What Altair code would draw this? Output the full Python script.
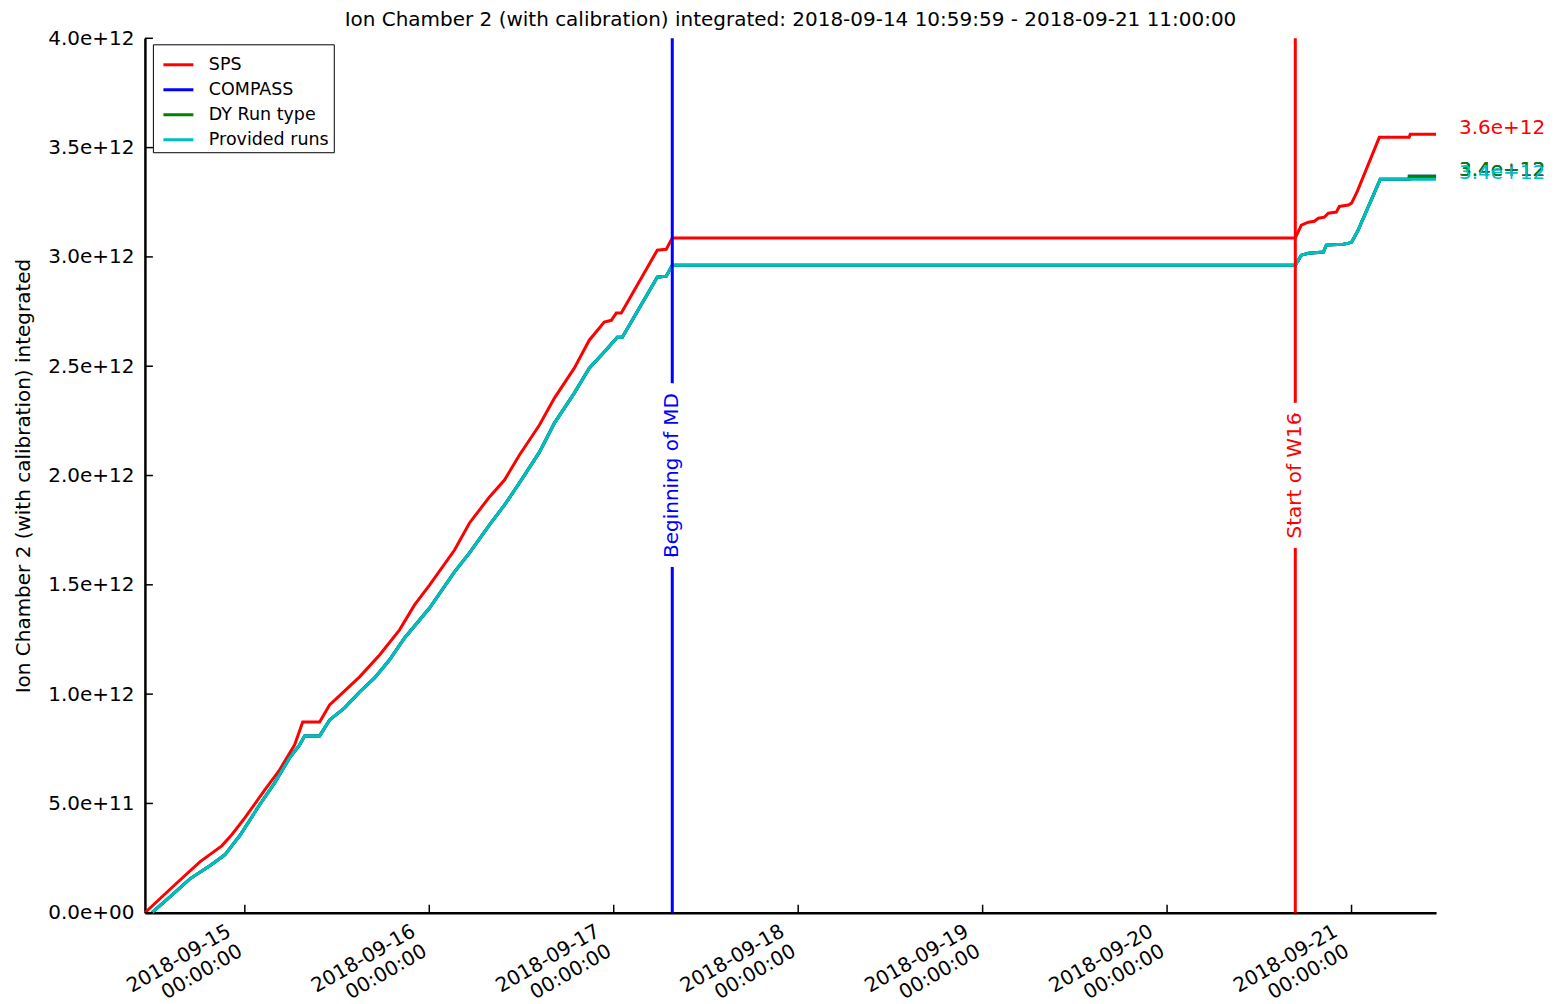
import altair as alt
import pandas as pd

FONT = "DejaVu Sans"

series_names = ["SPS", "COMPASS", "DY Run type", "Provided runs"]
series_colors = ["#ff0000", "#0000ff", "#008000", "#00bfbf"]

sps_times = [
    "2018-09-14T11:00", "2018-09-14T14:54", "2018-09-14T18:09", "2018-09-14T21:00",
    "2018-09-14T22:18", "2018-09-15T00:00", "2018-09-15T02:36", "2018-09-15T04:32",
    "2018-09-15T06:29", "2018-09-15T07:32", "2018-09-15T09:44", "2018-09-15T11:02",
    "2018-09-15T14:56", "2018-09-15T17:32", "2018-09-15T20:08", "2018-09-15T22:05",
    "2018-09-16T00:02", "2018-09-16T03:17", "2018-09-16T05:14", "2018-09-16T07:50",
    "2018-09-16T09:47", "2018-09-16T11:44", "2018-09-16T14:20", "2018-09-16T16:17",
    "2018-09-16T18:52", "2018-09-16T20:49", "2018-09-16T22:46", "2018-09-16T23:41",
    "2018-09-17T00:20", "2018-09-17T00:59", "2018-09-17T05:40", "2018-09-17T06:50",
    "2018-09-17T07:37", "2018-09-20T16:41", "2018-09-20T17:28", "2018-09-20T18:23",
    "2018-09-20T19:10", "2018-09-20T19:41", "2018-09-20T20:28", "2018-09-20T20:59",
    "2018-09-20T22:01", "2018-09-20T22:25", "2018-09-20T23:35", "2018-09-21T00:00",
    "2018-09-21T00:45", "2018-09-21T03:37", "2018-09-21T07:30", "2018-09-21T07:38",
    "2018-09-21T11:00",
]
sps_values = [
    0.0, 0.128e12, 0.233e12, 0.306e12,
    0.357e12, 0.434e12, 0.562e12, 0.654e12,
    0.768e12, 0.873e12, 0.873e12, 0.951e12,
    1.079e12, 1.179e12, 1.294e12, 1.408e12,
    1.499e12, 1.659e12, 1.783e12, 1.902e12,
    1.979e12, 2.094e12, 2.231e12, 2.354e12,
    2.491e12, 2.619e12, 2.702e12, 2.710e12,
    2.743e12, 2.743e12, 3.031e12, 3.035e12,
    3.086e12, 3.086e12, 3.145e12, 3.159e12,
    3.163e12, 3.177e12, 3.182e12, 3.200e12,
    3.205e12, 3.231e12, 3.237e12, 3.246e12,
    3.300e12, 3.547e12, 3.547e12, 3.561e12,
    3.561e12,
]

prov_times = [
    "2018-09-14T11:55", "2018-09-14T14:15", "2018-09-14T16:51", "2018-09-14T19:27",
    "2018-09-14T21:24", "2018-09-14T22:18", "2018-09-14T23:20", "2018-09-15T01:56",
    "2018-09-15T03:53", "2018-09-15T05:50", "2018-09-15T07:08", "2018-09-15T07:47",
    "2018-09-15T09:44", "2018-09-15T11:02", "2018-09-15T12:59", "2018-09-15T14:56",
    "2018-09-15T16:53", "2018-09-15T18:50", "2018-09-15T20:47", "2018-09-16T00:02",
    "2018-09-16T03:17", "2018-09-16T05:14", "2018-09-16T07:50", "2018-09-16T09:47",
    "2018-09-16T11:44", "2018-09-16T14:20", "2018-09-16T16:17", "2018-09-16T18:52",
    "2018-09-16T20:49", "2018-09-16T22:46", "2018-09-17T00:28", "2018-09-17T01:07",
    "2018-09-17T05:40", "2018-09-17T06:50", "2018-09-17T07:37", "2018-09-20T16:41",
    "2018-09-20T17:28", "2018-09-20T18:23", "2018-09-20T20:20", "2018-09-20T20:43",
    "2018-09-20T22:56", "2018-09-20T23:35", "2018-09-21T00:00", "2018-09-21T00:50",
    "2018-09-21T03:44", "2018-09-21T11:00",
]
prov_values = [
    0.0, 0.073e12, 0.155e12, 0.215e12,
    0.265e12, 0.306e12, 0.352e12, 0.494e12,
    0.594e12, 0.709e12, 0.768e12, 0.809e12,
    0.809e12, 0.882e12, 0.937e12, 1.010e12,
    1.074e12, 1.157e12, 1.257e12, 1.394e12,
    1.559e12, 1.646e12, 1.774e12, 1.865e12,
    1.966e12, 2.107e12, 2.240e12, 2.377e12,
    2.491e12, 2.565e12, 2.633e12, 2.633e12,
    2.907e12, 2.912e12, 2.962e12, 2.962e12,
    3.008e12, 3.017e12, 3.022e12, 3.054e12,
    3.058e12, 3.063e12, 3.067e12, 3.120e12,
    3.355e12, 3.355e12,
]

# DY run type and COMPASS follow the provided runs until the last step
dy_times = prov_times[:-1] + ["2018-09-21T07:30", "2018-09-21T07:31", "2018-09-21T11:00"]
dy_values = prov_values[:-1] + [3.355e12, 3.369e12, 3.369e12]
compass_times = list(dy_times)
compass_values = list(dy_values)

event_times = ["2018-09-17T07:37", "2018-09-20T16:41"]
event_labels = ["Beginning of MD", "Start of W16"]
event_label_value = 2.0e12

x_tick_days = [15, 16, 17, 18, 19, 20, 21]
y_tick_values = [0, 0.5e12, 1.0e12, 1.5e12, 2.0e12, 2.5e12, 3.0e12, 3.5e12, 4.0e12]

series_data = [
    ("SPS", sps_times, sps_values),
    ("COMPASS", compass_times, compass_values),
    ("DY Run type", dy_times, dy_values),
    ("Provided runs", prov_times, prov_values),
]
rows = []
end_rows = []
for name, ts, vs in series_data:
    for t, v in zip(ts, vs):
        rows.append({"series": name, "time": t, "value": v})
    end_rows.append({"series": name, "time": ts[-1], "value": vs[-1]})
df = pd.DataFrame(rows)
df_end = pd.DataFrame(end_rows)
df_events = pd.DataFrame({"time": event_times, "label": event_labels,
                          "value": [event_label_value] * len(event_times)})
df_xt = pd.DataFrame({"time": [f"2018-09-{d}T00:00" for d in x_tick_days]})
df_yt = pd.DataFrame({"value": y_tick_values})

x_scale = alt.Scale(domain=[alt.DateTime(year=2018, month=9, date=14, hours=10, minutes=59, seconds=59),
                            alt.DateTime(year=2018, month=9, date=21, hours=11, minutes=0, seconds=0)],
                    nice=False)
y_scale = alt.Scale(domain=[0, 4.0e12], nice=False)
color_scale = alt.Scale(domain=series_names, range=series_colors)

x_axis = alt.Axis(
    values=[alt.DateTime(year=2018, month=9, date=d) for d in x_tick_days],
    labelExpr="[timeFormat(datum.value, '%Y-%m-%d'), timeFormat(datum.value, '%H:%M:%S')]",
    labelAngle=330, labelAlign="right", labelBaseline="top",
    labelFontSize=20, labelLineHeight=23, labelPadding=8, labelOffset=-21,
    ticks=False, title=None, grid=False,
)
y_axis = alt.Axis(
    values=y_tick_values,
    labelExpr="datum.value == 0 ? '0.0e+00' : format(datum.value, '.1e')",
    labelFontSize=20, labelPadding=11, ticks=False, grid=False,
    title="Ion Chamber 2 (with calibration) integrated",
    titleFontSize=20, titleFontWeight="normal", titlePadding=14,
)

X = alt.X("time:T", scale=x_scale, axis=x_axis)
Y = alt.Y("value:Q", scale=y_scale, axis=y_axis)

def series_layer(name):
    return alt.Chart(df).transform_filter(alt.datum.series == name).mark_line(
        strokeWidth=3, interpolate="linear"
    ).encode(
        x=X, y=Y,
        color=alt.Color("series:N", scale=color_scale,
                        legend=alt.Legend(title=None, orient="none", legendX=8, legendY=6,
                                          symbolType="stroke", symbolSize=900,
                                          symbolStrokeWidth=3, symbolOffset=5,
                                          labelFontSize=17.5,
                                          labelOffset=14, padding=4, rowPadding=0,
                                          strokeColor="black", fillColor="white",
                                          labelFont=FONT, labelColor="black")),
        order=alt.Order("time:T"),
    )

lines = [series_layer(n) for n in series_names]

md_rule = alt.Chart(df_events.iloc[[0]]).mark_rule(color="#0000ff", strokeWidth=3).encode(
    x=alt.X("time:T", scale=x_scale))
w16_rule = alt.Chart(df_events.iloc[[1]]).mark_rule(color="#ff0000", strokeWidth=3).encode(
    x=alt.X("time:T", scale=x_scale))

ev_bg = alt.Chart(df_events).mark_text(
    angle=270, fontSize=20, font=FONT, fill="white", stroke="white", strokeWidth=22,
    align="center", baseline="middle"
).encode(x=alt.X("time:T", scale=x_scale), y=alt.Y("value:Q", scale=y_scale), text="label:N")
md_text = alt.Chart(df_events.iloc[[0]]).mark_text(
    angle=270, fontSize=20, font=FONT, color="#0000ff", align="center", baseline="middle"
).encode(x=alt.X("time:T", scale=x_scale), y=alt.Y("value:Q", scale=y_scale), text="label:N")
w16_text = alt.Chart(df_events.iloc[[1]]).mark_text(
    angle=270, fontSize=20, font=FONT, color="#ff0000", align="center", baseline="middle"
).encode(x=alt.X("time:T", scale=x_scale), y=alt.Y("value:Q", scale=y_scale), text="label:N")

end_labels = alt.Chart(df_end).mark_text(
    align="left", baseline="alphabetic", dx=23, fontSize=20, font=FONT
).encode(
    x=alt.X("time:T", scale=x_scale), y=alt.Y("value:Q", scale=y_scale),
    text=alt.Text("value:Q", format=".1e"),
    color=alt.Color("series:N", scale=color_scale, legend=None),
)

y_ticks = alt.Chart(df_yt).mark_rule(color="black", strokeWidth=1.5).encode(
    y=alt.Y("value:Q", scale=y_scale), x=alt.value(0), x2=alt.value(8))
x_ticks = alt.Chart(df_xt).mark_rule(color="black", strokeWidth=1.5).encode(
    x=alt.X("time:T", scale=x_scale), y=alt.value(875), y2=alt.value(867))

chart = alt.layer(
    *lines, md_rule, w16_rule, ev_bg, md_text, w16_text, end_labels, y_ticks, x_ticks
).properties(
    width=1292, height=875,
    title=alt.TitleParams(
        "Ion Chamber 2 (with calibration) integrated: 2018-09-14 10:59:59 - 2018-09-21 11:00:00",
        fontSize=20, fontWeight="normal", font=FONT, color="black", anchor="middle", offset=-2),
    autosize=alt.AutoSizeParams(type="none"),
    padding={"left": 137, "top": 30, "right": 115, "bottom": 90},
).configure_axis(
    domainColor="black", domainWidth=2.5, labelColor="black", titleColor="black",
    labelFont=FONT, titleFont=FONT,
).configure_view(stroke=None)

chart.save("out.html", embed_options={"renderer": "svg", "actions": False})
